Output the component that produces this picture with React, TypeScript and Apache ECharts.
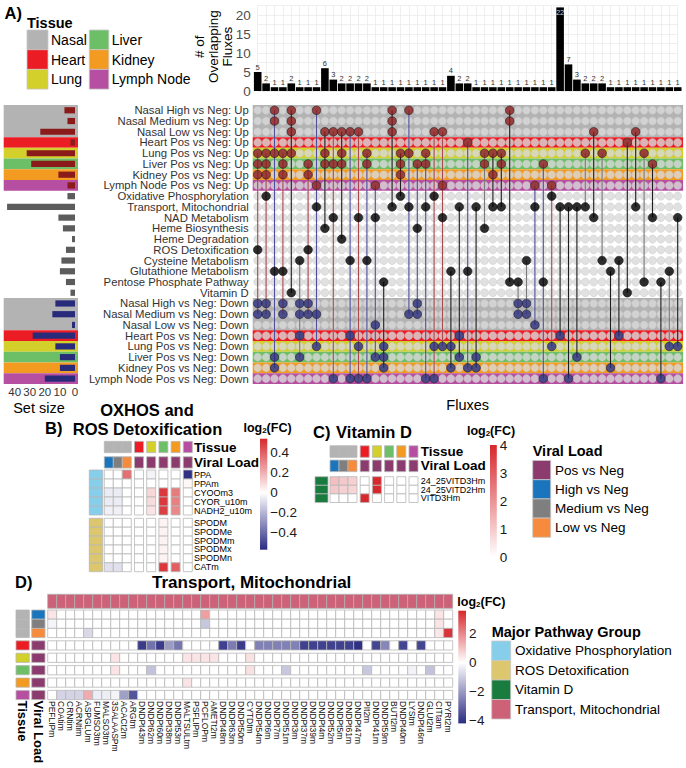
import React, { useEffect, useRef } from 'react';
import * as echarts from 'echarts';

const FONT = '"Liberation Sans", Arial, Helvetica, sans-serif';

// ---------------- Panel A : UpSet plot ----------------
const setNames = [
  'Nasal High vs Neg: Up', 'Nasal Medium vs Neg: Up', 'Nasal Low vs Neg: Up', 'Heart Pos vs Neg: Up',
  'Lung Pos vs Neg: Up', 'Liver Pos vs Neg: Up', 'Kidney Pos vs Neg: Up', 'Lymph Node Pos vs Neg: Up',
  'Oxidative Phosphorylation', 'Transport, Mitochondrial', 'NAD Metabolism', 'Heme Biosynthesis',
  'Heme Degradation', 'ROS Detoxification', 'Cysteine Metabolism', 'Glutathione Metabolism',
  'Pentose Phosphate Pathway', 'Vitamin D',
  'Nasal High vs Neg: Down', 'Nasal Medium vs Neg: Down', 'Nasal Low vs Neg: Down', 'Heart Pos vs Neg: Down',
  'Lung Pos vs Neg: Down', 'Liver Pos vs Neg: Down', 'Kidney Pos vs Neg: Down', 'Lymph Node Pos vs Neg: Down',
];
const setKind = [
  'up', 'up', 'up', 'up', 'up', 'up', 'up', 'up',
  'path', 'path', 'path', 'path', 'path', 'path', 'path', 'path', 'path', 'path',
  'down', 'down', 'down', 'down', 'down', 'down', 'down', 'down',
];
const setTissue = [0, 0, 0, 1, 2, 3, 4, 5, -1, -1, -1, -1, -1, -1, -1, -1, -1, -1, 0, 0, 0, 1, 2, 3, 4, 5];

const intersectionSizes = [
  5, 2, 1, 1, 2, 1, 1, 1, 6, 3, 2, 2, 2, 2, 1, 1, 1, 1, 1, 1, 1, 1, 1, 4, 2, 2,
  1, 1, 1, 1, 1, 1, 1, 1, 1, 1, 22, 7, 3, 2, 2, 2, 1, 1, 1, 1, 1, 1, 1, 1, 1,
];
const intersectionSets = [
  [4, 5, 6, 13, 18, 19], [4, 5, 6, 8, 18, 19], [0, 1, 4, 15, 23, 24], [4, 5, 6, 15, 18, 19],
  [0, 1, 2, 4, 17], [14, 18, 19, 21, 23], [5, 6, 13, 18, 19], [0, 7, 9, 19, 22],
  [2, 4, 5, 11], [2, 5, 10, 25], [2, 4, 5, 12], [2, 14, 21, 25], [2, 10, 22, 25],
  [4, 5, 14, 25], [7, 10, 20, 23], [16, 22, 23, 24], [0, 1, 2, 9], [4, 5, 6, 8],
  [0, 4, 9, 19], [5, 11, 18, 19], [4, 5, 9, 25], [2, 8, 22, 25], [2, 7, 10, 22],
  [15, 22, 24], [9, 21, 23], [3, 15, 24], [9, 23, 24], [4, 5, 11], [4, 6, 9], [4, 5, 9],
  [0, 1, 16], [16, 18, 19], [14, 18, 19], [7, 9, 20], [5, 16, 25], [7, 8, 22],
  [9, 21], [9, 25], [9, 23], [4, 9], [2, 10], [4, 14], [15, 24], [14, 21], [3, 17],
  [2, 9], [4, 16], [5, 10], [16, 25], [15, 22], [10, 22],
];
const intersectionLineTone = [
  'r', 'r', 'b', 'r', 'k', 'g', 'r', 'b', 'k', 'r',
  'k', 'b', 'r', 'b', 'b', 'k', 'k', 'k', 'b', 'b',
  'b', 'r', 'r', 'k', 'k', 'b', 'k', 'g', 'k', 'k',
  'k', 'g', 'g', 'b', 'b', 'r', 'k', 'k', 'k', 'g',
  'k', 'g', 'k', 'k', 'k', 'k', 'g', 'k', 'k', 'g', 'k',
];
const barTicks = [0, 5, 10, 15, 20];
const setSizeTicks = [0, 10, 20, 30, 40];

// ---------------- shared categories ----------------
const tissueNames = ['Nasal', 'Heart', 'Lung', 'Liver', 'Kidney', 'Lymph Node'];
const tissueColors = ['#b3b3b3', '#ec1c24', '#d3d02b', '#6cbf66', '#f39a21', '#b64fa1'];
const viralNames = ['Pos vs Neg', 'High vs Neg', 'Medium vs Neg', 'Low vs Neg'];
const viralColors = ['#8c3b6e', '#1b75bc', '#7f7f7f', '#f68b3d'];
const pathwayGroupNames = ['Oxidative Phosphorylation', 'ROS Detoxification', 'Vitamin D', 'Transport, Mitochondrial'];
const pathwayGroupColors = ['#87ceeb', '#dcc66e', '#1a7b3e', '#cd6177'];

const comparisonColumns = ['Nasal High', 'Nasal Medium', 'Nasal Low', 'Heart', 'Lung', 'Liver', 'Kidney', 'Lymph Node'];
const comparisonTissue = [0, 0, 0, 1, 2, 3, 4, 5];
const comparisonViral = [1, 2, 3, 0, 0, 0, 0, 0];
const comparisonSplit = [0, 0, 0, 1, 2, 3, 4, 5];

// ---------------- Panel B ----------------
const oxphosFluxes = ['PPA', 'PPAm', 'CYOOm3', 'CYOR_u10m', 'NADH2_u10m'];
const oxphosFC = [
  [0, 0, 0.36, 0, -0.03, 0, 0, -0.56],
  [0, 0, 0, 0, 0, 0, 0, 0.02],
  [-0.05, -0.05, 0, 0, 0.1, 0.5, 0.33, 0],
  [-0.05, -0.05, 0, 0, 0.09, 0.5, 0.32, 0],
  [-0.04, -0.04, 0, 0, 0.07, 0.48, 0.3, 0],
];
const rosFluxes = ['SPODM', 'SPODMe', 'SPODMm', 'SPODMx', 'SPODMn', 'CATm'];
const rosFC = [
  [0, 0, 0, 0, 0, 0.03, 0, 0],
  [0, 0, 0, 0, 0, 0.03, 0, 0],
  [0, 0, 0, 0, 0, 0.03, 0, 0],
  [0, 0, 0, 0, 0, 0.03, 0, 0],
  [0, 0, 0, 0, 0, 0.03, 0, 0],
  [-0.08, -0.08, 0, 0, 0, 0.5, 0.4, 0],
];
const bTicks = [-0.4, -0.2, 0, 0.2, 0.4];

// ---------------- Panel C ----------------
const vitDFluxes = ['24_25VITD3Hm', '24_25VITD2Hm', 'VITD3Hm'];
const vitDFC = [
  [1.2, 1.0, 0.9, 0, 4, 0, 0, 0],
  [1.0, 0.9, 0.8, 0, 4, 0, 0, 0],
  [0, 0, 0, 4, 0, 0, 0, 0],
];
const cTicks = [0, 1, 2, 3, 4];

// ---------------- Panel D ----------------
const transportFluxes = [
  'PEFLIPm', 'COAtim', 'CRNtim', 'ACRNtim', 'ASPGLUm', 'FUMSO3tm', 'MALSO3tm', '3SALAASPm', 'ACACt2m', 'ARGtm',
  'DNDPt43m', 'DNDPt62m', 'DNDPt60m', 'DNDPt38m', 'DNDPt53m', 'MALTSULtm', 'PSFLIPm', 'PCFLOPm', 'AMETt2m', 'DNDPt48m',
  'DNDPt63m', 'DNDPt50m', 'CYTDtm', 'DNDPt54m', 'DNDPt6m', 'DNDPt7m', 'DNDPt51m', 'DNDPt3m', 'DNDPt37m', 'DNDPt39m',
  'DNDPt4m', 'DNDPt52m', 'DNDPt5m', 'DNDPt61m', 'DNDPt47m', 'PIt2m', 'DNDPt41m', 'DNDPt59m', 'BUTt2m', 'DNDPt40m',
  'LYStm', 'DNDPt46m', 'GLUt2m', 'CITtam', 'PYRt2m',
];
const dNasalHigh = [
  0.45, 0, 0, 0, 0, 0, 0, 0, 0, 0, 0, 0, 0, 0, 0, 0, 0, 1.6, 0, 0,
  0, 0, 0, 0, 0, 0, 0, 0, 0, 0, 0, 0, 0, 0, 0, 0, 0, 0, 0, 0, 0, 0, 0, 0.45, 0,
];
const dNasalMedium = [
  -0.2, 0, 0, 0, 0, 0, 0, 0, 0, 0, 0, 0, 0, 0, 0, 0, 0, -1.1, 0, 0,
  0, 0, 0, 0, 0, 0, 0, 0, 0, 0, 0, 0, 0, 0, 0, 0, 0, 0, 0, 0, 0, 0, 0, 0.45, 0,
];
const dNasalLow = [
  0, 0, 0, 0, -0.75, 0, 0, 0, 0, 0, 0, 0, 0, 0, 0, 0, 0, 0, 0, 0,
  0, 0, 0, 0, 0, 0, 0, 0, 0, 0, 0, 0, 0, 0, 0, 0, 0, 0, 0, 0, 0, 0, 0, 0.4, 3.4,
];
const dHeart = [
  0, 0, 0, 0, 0, 0, 0, 0, 0, 0, -3.9, -2.8, -3.9, -2.0, -2.7, 0, 0, 0, 0, -3.8,
  -2.6, -3.9, 0, -2.5, -2.5, -2.5, -2.5, -2.5, -3.8, -3.8, -3.8, -3.8, -3.8, -3.8, -4.1, 0, -3.7, -2.4, 0, -3.7,
  0, -3.7, 0, 0, 0,
];
const dLung = [
  0, 0, 0, 0, 0, 0, 0, 0.45, 0, 0, 0, 0, 0, 0, 0, 0.45, 0.45, 0.45, 0.45, 0,
  0, 0, 0.5, 0, 0, 0, 0, 0, 0, 0, 0, 0, 0, 0, 0, 0, 0, 0, 0, 0, 0, 0, 0, 0, 0,
];
const dLiver = [
  0, 0, 0, 0, 0, 0, 0, 0.45, 0, 0, 0, -1.2, 0, 0, 0, 0, 0, 0, 0, 0,
  0, 0, 0.5, 0, 0, 0, -1.1, 0, 0, 0, 0, 0, 0, 0, 0, -1.1, 0, 0, 0, 0, -0.25, 0, -1.2, 0, 0,
];
const dKidney = [
  0, 0, 0, 0, 0, 0, 0, 0, 0, 0, 0, 0, 0, 0, 0, 0.45, 0, 0, 0, 0,
  0, 0, 0, 0, 0, 0, 0, 0, 0, 0, 0, 0, 0, 0, 0, 0, 0, 0, 0, 0, 0, 0, 0, 0, 0,
];
const dLymph = [
  0, -0.85, -0.85, -0.85, 1.4, -0.35, -0.35, -0.2, -1.9, -3.4, 0, 0, 0, 0, 0, 0, 0, 0, 0, 0,
  0, 0, 0, 0, 0, 0, 0, 0, 0, 0, 0, 0, 0, 0, 0, 0, 0, 0, 0, 0, 0, 0, 0, 0, 0,
];
const transportFC = [dNasalHigh, dNasalMedium, dNasalLow, dHeart, dLung, dLiver, dKidney, dLymph];
const dTicks = [-4, -2, 0, 2];

// ---------------- colour scales ----------------
const NAVY = '#2b2c82';
const RED = '#d7282d';
const hexRgb = (h: string) => [1, 3, 5].map((k) => parseInt(h.slice(k, k + 2), 16));
const rgbStr = (c: number[]) => `rgb(${c.map((x) => Math.round(x)).join(',')})`;
function makeScale(stops: [number, string][]) {
  const s = stops.map(([v, c]) => [v, hexRgb(c)] as [number, number[]]);
  return (v: number) => {
    if (v <= s[0][0]) return rgbStr(s[0][1]);
    for (let k = 1; k < s.length; k++) {
      if (v <= s[k][0]) {
        const t = (v - s[k - 1][0]) / (s[k][0] - s[k - 1][0]);
        return rgbStr(s[k - 1][1].map((a, m) => a + t * (s[k][1][m] - a)));
      }
    }
    return rgbStr(s[s.length - 1][1]);
  };
}
const stopsB: [number, string][] = [[-0.57, NAVY], [0, '#ffffff'], [0.54, RED]];
const stopsC: [number, string][] = [[0, '#ffffff'], [4, RED]];
const stopsD: [number, string][] = [[-4.2, NAVY], [0, '#ffffff'], [3.6, RED]];
const scaleB = makeScale(stopsB);
const scaleC = makeScale(stopsC);
const scaleD = makeScale(stopsD);

// ---------------- helpers ----------------
const kindDot: Record<string, string> = { up: '#8b1a1a', path: '#000000', down: '#282a7a' };
const kindBar: Record<string, string> = { up: '#8b1a1a', path: '#5c5c5c', down: '#282a7a' };
const toneKeys = ['r', 'b', 'k', 'g'];
const toneColors = ['#a94a4f', '#4f4f9c', '#1e1e1e', '#7a7a7a'];

const signedLabel = (v: number, digits: number) => {
  if (Math.abs(v) < 1e-9) return '0';
  const s = Math.abs(v).toFixed(digits);
  return v < 0 ? '\u2212' + s : s;
};
const onTicks = (ticks: number[], digits: number) => (v: number) =>
  ticks.some((t) => Math.abs(t - v) < 1e-6) ? signedLabel(v, digits) : '';

function cellSeries(gi: number, data: number[][], colorOf: (v: number, r: number, c: number) => string, opt: any = {}) {
  const { colSplit, rowSplit, gap = 0, cellH, stroke = '#b8b8b8' } = opt;
  return {
    type: 'custom', xAxisIndex: gi, yAxisIndex: gi, silent: true, z: 3, data,
    renderItem: (_p: any, api: any) => {
      const c = api.value(0), r = api.value(1), v = api.value(2);
      const p = api.coord([c, r]);
      const s = api.size([1, 1]);
      const h = cellH ?? s[1];
      const x = p[0] - s[0] / 2 + (colSplit ? colSplit[c] * gap : 0);
      const y = p[1] - h / 2 + (rowSplit ? rowSplit[r] * gap : 0);
      return { type: 'rect', shape: { x, y, width: s[0], height: h }, style: { fill: colorOf(v, r, c), stroke, lineWidth: 0.8 } };
    },
  };
}

function sideAnnotSeries(gi: number, data: number[][], cols: { offset: number; width: number; colors: string[] }[], rowSplit?: number[], gap = 0) {
  return {
    type: 'custom', xAxisIndex: gi, yAxisIndex: gi, silent: true, z: 3, data,
    renderItem: (params: any, api: any) => {
      const cs = params.coordSys;
      const r = api.value(0);
      const p = api.coord([0, r]);
      const s = api.size([1, 1]);
      const y = p[1] - s[1] / 2 + (rowSplit ? rowSplit[r] * gap : 0);
      return {
        type: 'group',
        children: cols.map((cd, k) => ({
          type: 'rect',
          shape: { x: cs.x - cd.offset, y, width: cd.width, height: s[1] },
          style: { fill: cd.colors[api.value(1 + k)], stroke: '#b8b8b8', lineWidth: 0.8 },
        })),
      };
    },
  };
}

function colorbarSeries(gi: number, stops: [number, string][]) {
  const lo = stops[0][0];
  const hi = stops[stops.length - 1][0];
  const grad = [...stops].sort((a, b) => b[0] - a[0]).map(([v, c]) => ({ offset: (hi - v) / (hi - lo), color: c }));
  return {
    type: 'custom', xAxisIndex: gi, yAxisIndex: gi, silent: true, data: [[0, lo, hi]],
    renderItem: (params: any, api: any) => {
      const cs = params.coordSys;
      const yTop = api.coord([0, api.value(2)])[1];
      const yBot = api.coord([0, api.value(1)])[1];
      return {
        type: 'rect',
        shape: { x: cs.x, y: yTop, width: cs.width, height: yBot - yTop },
        style: { fill: new echarts.graphic.LinearGradient(0, 0, 0, 1, grad) },
      };
    },
  };
}

const tissueBands = (() => {
  const out: number[][] = [];
  let i = 0;
  while (i < setNames.length) {
    const t = setTissue[i];
    if (t < 0) { i++; continue; }
    let k = i;
    while (k + 1 < setNames.length && setTissue[k + 1] === t && setKind[k + 1] === setKind[i]) k++;
    out.push([i, k, t]);
    i = k + 1;
  }
  return out;
})();

function bandSeries(gi: number, padL: number, padR: number) {
  return {
    type: 'custom', xAxisIndex: gi, yAxisIndex: gi, silent: true, z: 1, data: tissueBands,
    renderItem: (params: any, api: any) => {
      const cs = params.coordSys;
      const h = api.size([0, 1])[1];
      const y1 = api.coord([0, api.value(0)])[1] - h / 2;
      const y2 = api.coord([0, api.value(1)])[1] + h / 2;
      return {
        type: 'rect',
        shape: { x: cs.x - padL, y: y1, width: cs.width + padL + padR, height: y2 - y1 },
        style: { fill: tissueColors[api.value(2)] },
      };
    },
  };
}

const T = (x: number, y: number, text: string, size: number, o: any = {}) => ({
  type: 'text', x, y, rotation: o.rotation ?? 0, silent: true,
  style: {
    text, fontSize: size, fontFamily: FONT, fontWeight: o.bold ? 'bold' : 'normal', fill: o.fill ?? '#000',
    align: o.align ?? 'left', verticalAlign: 'middle', textAlign: o.align ?? 'left', textVerticalAlign: 'middle',
    lineHeight: o.lineHeight,
  },
});
const R = (x: number, y: number, w: number, h: number, fill: string) => ({
  type: 'rect', silent: true, shape: { x, y, width: w, height: h }, style: { fill, stroke: '#c8c8c8', lineWidth: 0.8 },
});
const LOG = (x: number, y: number, align: string) => ({
  type: 'text', x, y, silent: true,
  style: {
    text: '{a|log}{b|2}{a|(FC)}', align, verticalAlign: 'middle', textAlign: align, textVerticalAlign: 'middle',
    rich: {
      a: { fontSize: 12.5, fontWeight: 'bold', fontFamily: FONT, fill: '#000', color: '#000', lineHeight: 13, verticalAlign: 'middle' },
      b: { fontSize: 8, fontWeight: 'bold', fontFamily: FONT, fill: '#000', color: '#000', lineHeight: 13, verticalAlign: 'bottom' },
    },
  },
});

function buildOption() {
  const colLabels = intersectionSizes.map((_, j) => String(j + 1));
  const setSizes = setNames.map((_, i) =>
    intersectionSets.reduce((s, sets, j) => s + (sets.includes(i) ? intersectionSizes[j] : 0), 0));
  const emptyDots: number[][] = [];
  colLabels.forEach((_, j) => setNames.forEach((__, i) => emptyDots.push([j, i])));
  const filledDots: number[][] = [];
  intersectionSets.forEach((sets, j) => sets.forEach((i) => filledDots.push([j, i])));
  const lineData = intersectionSets.map((sets, j) => [j, Math.min(...sets), Math.max(...sets), toneKeys.indexOf(intersectionLineTone[j])]);

  const annotData: number[][] = [];
  comparisonColumns.forEach((_, c) => { annotData.push([c, 0, comparisonTissue[c]]); annotData.push([c, 1, comparisonViral[c]]); });
  const annotColor = (v: number, r: number) => (r === 0 ? tissueColors[v] : viralColors[v]);
  const toCells = (m: number[][]) => m.flatMap((row, r) => row.map((v, c) => [c, r, v]));

  const axisOff = { axisLine: { show: false }, axisTick: { show: false }, splitLine: { show: false } };
  const hiddenCat = (gi: number, data: string[], extra: any = {}) => ({ type: 'category', gridIndex: gi, data, show: false, ...extra });
  const rightLabels = (gi: number, data: string[], size: number, margin: number, bold = false, lineHeight?: number) => ({
    type: 'category', gridIndex: gi, data, inverse: true, position: 'right', ...axisOff,
    axisLabel: { fontSize: size, fontWeight: bold ? 'bold' : 'normal', color: '#000', margin, interval: 0, fontFamily: FONT, lineHeight },
  });
  const cbarAxis = (gi: number, min: number, max: number, interval: number, ticks: number[], digits: number) => ({
    type: 'value', gridIndex: gi, min, max, interval, position: 'right', ...axisOff,
    axisLabel: { fontSize: 13.5, color: '#1a1a1a', margin: 3, fontFamily: FONT, lineHeight: 13, formatter: onTicks(ticks, digits) },
  });

  const grid = [
    { left: 257.7, top: 5.5, width: 420, height: 85.5 },
    { left: 257.7, top: 110.3, width: 420, height: 268.3 },
    { left: 2, top: 110.3, width: 73, height: 268.3 },
    { left: 104.3, top: 439.3, width: 72, height: 30.8 },
    { left: 104.3, top: 470, width: 72, height: 45 },
    { left: 104.3, top: 518.3, width: 72, height: 53.4 },
    { left: 260, top: 432.7, width: 7.3, height: 120 },
    { left: 330, top: 444.4, width: 72, height: 28.6 },
    { left: 330, top: 476.7, width: 72, height: 25.8 },
    { left: 490, top: 445, width: 6.8, height: 112 },
    { left: 47.7, top: 594.3, width: 405, height: 14 },
    { left: 47.7, top: 610, width: 405, height: 73.6 },
    { left: 458.3, top: 604.9, width: 7.7, height: 144.5 },
  ];

  const xAxis = [
    { type: 'category', gridIndex: 0, data: colLabels, boundaryGap: false, axisLine: { show: false }, axisTick: { show: false },
      axisLabel: { show: false }, splitLine: { show: true, interval: 0, lineStyle: { color: '#ebebeb', width: 0.8 } } },
    { type: 'category', gridIndex: 1, data: colLabels, boundaryGap: false, ...axisOff, axisLabel: { show: false },
      name: 'Fluxes', nameLocation: 'middle', nameGap: 19, nameTextStyle: { fontSize: 14.5, color: '#000', fontFamily: FONT } },
    { type: 'value', gridIndex: 2, inverse: true, min: 0, max: 47.7, interval: 10, ...axisOff,
      axisLabel: { fontSize: 11.5, color: '#333', margin: 7, fontFamily: FONT, formatter: onTicks(setSizeTicks, 0) },
      name: 'Set size', nameLocation: 'middle', nameGap: 22, nameTextStyle: { fontSize: 14.5, color: '#000', fontFamily: FONT } },
    hiddenCat(3, comparisonColumns),
    hiddenCat(4, comparisonColumns),
    hiddenCat(5, comparisonColumns),
    hiddenCat(6, ['bar']),
    hiddenCat(7, comparisonColumns),
    hiddenCat(8, comparisonColumns),
    hiddenCat(9, ['bar']),
    hiddenCat(10, transportFluxes),
    { type: 'category', gridIndex: 11, data: transportFluxes, position: 'bottom', ...axisOff,
      axisLabel: { rotate: -90, fontSize: 8.5, margin: 17.4, interval: 0, color: '#111', fontFamily: FONT, lineHeight: 8.5 } },
    hiddenCat(12, ['bar']),
  ];

  const yAxis = [
    { type: 'value', gridIndex: 0, min: 0, max: 22.5, interval: 2.5, axisLine: { show: false }, axisTick: { show: false },
      axisLabel: { fontSize: 13.5, color: '#4d4d4d', margin: 7, fontFamily: FONT, formatter: onTicks(barTicks, 0) },
      splitLine: { lineStyle: { color: '#ebebeb', width: 0.8 } } },
    { type: 'category', gridIndex: 1, data: setNames, inverse: true, boundaryGap: false, ...axisOff,
      axisLabel: { fontSize: 11.3, color: '#333', margin: 9, interval: 0, fontFamily: FONT, lineHeight: 10.5 } },
    { type: 'category', gridIndex: 2, data: setNames, inverse: true, boundaryGap: false, show: false },
    rightLabels(3, ['Tissue', 'Viral Load'], 13.5, 17.7, true, 12),
    rightLabels(4, oxphosFluxes, 9, 17.7, false, 8.8),
    rightLabels(5, rosFluxes, 9, 17.7, false, 8.8),
    cbarAxis(6, -0.6, 0.6, 0.2, bTicks, 1),
    rightLabels(7, ['Tissue', 'Viral Load'], 13.5, 18.7, true, 12.5),
    rightLabels(8, vitDFluxes, 9, 18.7, false, 8.5),
    cbarAxis(9, 0, 4, 1, cTicks, 0),
    hiddenCat(10, ['Transport']),
    hiddenCat(11, comparisonColumns, { inverse: true }),
    cbarAxis(12, -6, 4, 2, dTicks, 0),
  ];

  const series: any[] = [
    // A: intersection size bars
    { type: 'bar', xAxisIndex: 0, yAxisIndex: 0, barWidth: 7.6, z: 3,
      data: intersectionSizes.map((v) => (v >= 20 ? { value: v, label: { position: 'insideTop', color: '#cfcfcf' } } : v)),
      itemStyle: { color: '#000' },
      label: { show: true, position: 'top', distance: 1, fontSize: 7.5, color: '#333', fontFamily: FONT } },
    // A: matrix
    bandSeries(1, 5, 5.4),
    { type: 'scatter', xAxisIndex: 1, yAxisIndex: 1, data: emptyDots, symbolSize: 8, silent: true, z: 2,
      itemStyle: { color: '#d9d9d9', borderColor: '#c2c2c2', borderWidth: 0.5 } },
    { type: 'custom', xAxisIndex: 1, yAxisIndex: 1, data: lineData, silent: true, z: 3,
      renderItem: (_p: any, api: any) => {
        const a = api.coord([api.value(0), api.value(1)]);
        const b = api.coord([api.value(0), api.value(2)]);
        return { type: 'line', shape: { x1: a[0], y1: a[1], x2: b[0], y2: b[1] }, style: { stroke: toneColors[api.value(3)], lineWidth: 1.1 } };
      } },
    { type: 'scatter', xAxisIndex: 1, yAxisIndex: 1, data: filledDots, symbolSize: 8.6, silent: true, z: 4,
      itemStyle: { color: (p: any) => kindDot[setKind[p.value[1]]], borderColor: '#1a1a1a', borderWidth: 0.7 } },
    // A: set sizes
    bandSeries(2, -0.7, 3),
    { type: 'bar', xAxisIndex: 2, yAxisIndex: 2, barWidth: 6.2, z: 3, silent: true,
      data: setSizes.map((v, i) => ({ value: v, itemStyle: { color: kindBar[setKind[i]] } })) },
    // B
    cellSeries(3, annotData, annotColor, { colSplit: comparisonSplit, gap: 3.2, cellH: 11.3 }),
    cellSeries(4, toCells(oxphosFC), (v) => scaleB(v), { colSplit: comparisonSplit, gap: 3.2 }),
    cellSeries(5, toCells(rosFC), (v) => scaleB(v), { colSplit: comparisonSplit, gap: 3.2 }),
    sideAnnotSeries(4, oxphosFluxes.map((_, r) => [r, 0]), [{ offset: 15, width: 13.4, colors: pathwayGroupColors }]),
    sideAnnotSeries(5, rosFluxes.map((_, r) => [r, 1]), [{ offset: 15, width: 13.4, colors: pathwayGroupColors }]),
    colorbarSeries(6, stopsB),
    // C
    cellSeries(7, annotData, annotColor, { colSplit: comparisonSplit, gap: 3.2, cellH: 11.6 }),
    cellSeries(8, toCells(vitDFC), (v) => scaleC(v), { colSplit: comparisonSplit, gap: 3.2 }),
    sideAnnotSeries(8, vitDFluxes.map((_, r) => [r, 2]), [{ offset: 15, width: 13, colors: pathwayGroupColors }]),
    colorbarSeries(9, stopsC),
    // D
    cellSeries(10, transportFluxes.map((_, c) => [c, 0, 3]), (v) => pathwayGroupColors[v], { stroke: '#b0b0b0' }),
    cellSeries(11, toCells(transportFC), (v) => scaleD(v), { rowSplit: comparisonSplit, gap: 3.2 }),
    sideAnnotSeries(11, comparisonColumns.map((_, r) => [r, comparisonTissue[r], comparisonViral[r]]), [
      { offset: 31.7, width: 13.3, colors: tissueColors },
      { offset: 16, width: 13.3, colors: viralColors },
    ], comparisonSplit, 3.2),
    colorbarSeries(12, stopsD),
  ];

  const graphic: any[] = [];
  graphic.push(T(4.5, 13, 'A)', 16.5, { bold: true }));
  graphic.push(T(27, 22.5, 'Tissue', 14.5, { bold: true }));
  tissueNames.forEach((n, k) => {
    const col = Math.floor(k / 3), row = k % 3;
    const sx = col === 0 ? 27 : 89.3;
    const sy = 30 + row * 19.7;
    graphic.push(R(sx, sy, col === 0 ? 21 : 19.5, 19.7, tissueColors[k]));
    graphic.push(T(col === 0 ? 51 : 111.7, sy + 10, n, 14));
  });
  graphic.push(T(213.5, 46.7, '# of\nOverlapping\nFluxes', 13.5, { align: 'center', rotation: Math.PI / 2, lineHeight: 14 }));

  graphic.push(T(45, 428, 'B)', 16.5, { bold: true }));
  graphic.push(T(147, 410, 'OXHOS and', 16.5, { bold: true, align: 'center' }));
  graphic.push(T(147.5, 429, 'ROS Detoxification', 16.5, { bold: true, align: 'center' }));
  graphic.push(LOG(267.5, 428, 'center'));

  graphic.push(T(313, 432, 'C)', 16.5, { bold: true }));
  graphic.push(T(374, 431.7, 'Vitamin D', 16.5, { bold: true, align: 'center' }));
  graphic.push(LOG(491, 430.5, 'center'));
  graphic.push(T(532.7, 451, 'Viral Load', 14.5, { bold: true }));
  viralNames.forEach((n, k) => {
    const sy = 460.5 + k * 19.2;
    graphic.push(R(532.7, sy, 18, 19.2, viralColors[k]));
    graphic.push(T(555, sy + 9.6, n, 13.5));
  });

  graphic.push(T(15, 581.7, 'D)', 16.5, { bold: true }));
  graphic.push(T(251.7, 582, 'Transport, Mitochondrial', 17, { bold: true, align: 'center' }));
  graphic.push(LOG(457.3, 601.7, 'left'));
  graphic.push(T(491.7, 631.7, 'Major Pathway Group', 14.5, { bold: true }));
  pathwayGroupNames.forEach((n, k) => {
    const sy = 641 + k * 19.5;
    graphic.push(R(491.7, sy, 19, 19.5, pathwayGroupColors[k]));
    graphic.push(T(515, sy + 9.75, n, 13.5));
  });
  graphic.push(T(22.7, 700.5, 'Tissue', 13, { bold: true, rotation: -Math.PI / 2 }));
  graphic.push(T(38.3, 700.5, 'Viral Load', 13, { bold: true, rotation: -Math.PI / 2 }));

  return {
    animation: false,
    backgroundColor: '#ffffff',
    textStyle: { fontFamily: FONT },
    grid, xAxis, yAxis, series, graphic,
  };
}

export default function App() {
  const ref = useRef<HTMLDivElement>(null);
  useEffect(() => {
    const chart = echarts.init(ref.current as HTMLDivElement, null, { renderer: 'svg' });
    chart.setOption(buildOption() as any);
    return () => chart.dispose();
  }, []);
  return <div ref={ref} style={{ position: 'absolute', left: 0, top: 0, width: 686, height: 768 }} />;
}
